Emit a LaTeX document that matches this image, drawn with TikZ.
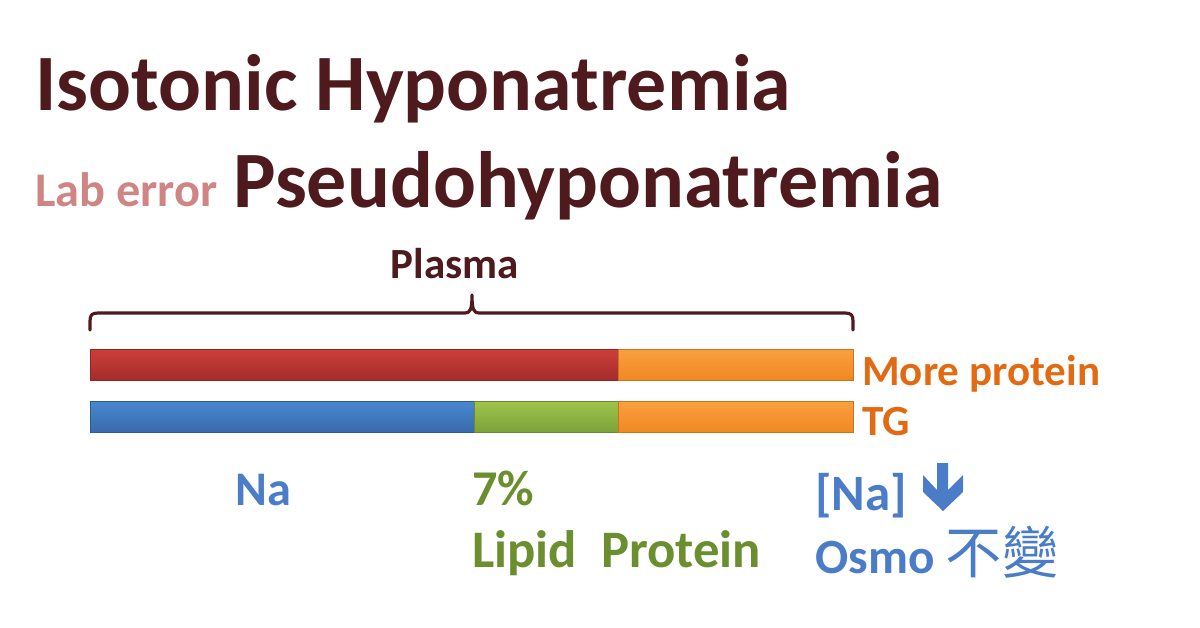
\documentclass[tikz,border=0pt]{standalone}
\usepackage{fontspec}
\setmainfont{Carlito}
\newfontfamily\cjkfont{Noto Sans CJK TC}
\usetikzlibrary{positioning}
\definecolor{Maroon}{RGB}{78,26,29}
\definecolor{LabPink}{RGB}{208,133,133}
\definecolor{OrangeTxt}{RGB}{226,106,18}
\definecolor{BlueTxt}{RGB}{74,124,200}
\definecolor{GreenTxt}{RGB}{107,142,46}
\definecolor{RedTop}{RGB}{204,62,58}
\definecolor{RedBot}{RGB}{165,44,42}
\definecolor{OrgTop}{RGB}{250,160,64}
\definecolor{OrgBot}{RGB}{240,136,34}
\definecolor{BluTop}{RGB}{72,136,208}
\definecolor{BluBot}{RGB}{56,106,172}
\definecolor{GrnTop}{RGB}{158,196,76}
\definecolor{GrnBot}{RGB}{124,162,58}

\begin{document}
\begin{tikzpicture}[
    x=0.02cm, y=-0.02cm,
    txt/.style={anchor=base west, inner sep=0pt, font=\bfseries\fontsize{#1}{#1}\selectfont},
    bar/.style 2 args={top color=#1, bottom color=#2, draw=#2!85!black, line width=0.4pt},
    brace/.style={draw=Maroon, line width=1.8pt, line cap=round, line join=round}
  ]
    \useasboundingbox (0,0) rectangle (1200,628);
    % titles
    \node[txt=45.5, text=Maroon](title) at (35,111){Isotonic Hyponatremia};
    \node[txt=27.5, text=LabPink](lab) at (35,207){Lab error};
    \node[txt=45.5, text=Maroon](pseudo) at (233,208){Pseudohyponatremia};
    % plasma brace
    \node[txt=24.5, text=Maroon, anchor=base](plasma) at (455,278){Plasma};
    \draw[brace] (90,330) -- (90,321) .. controls (90,315) and (92,313) .. (98,313)
      -- (465,313) .. controls (470,313) and (472,310) .. (472,295)
      .. controls (472,310) and (474,313) .. (479,313)
      -- (845,313) .. controls (851,313) and (853,315) .. (853,321) -- (853,330);
    % bars
    \path[bar={RedTop}{RedBot}] (90,349) rectangle (618,380);
    \path[bar={OrgTop}{OrgBot}] (618,349) rectangle (853,380);
    \path[bar={BluTop}{BluBot}] (90,401) rectangle (474,432);
    \path[bar={GrnTop}{GrnBot}] (474,401) rectangle (618,432);
    \path[bar={OrgTop}{OrgBot}] (618,401) rectangle (853,432);
    \node[txt=24.5, text=OrangeTxt](more) at (862,385){More protein};
    \node[txt=24.5, text=OrangeTxt](tg) at (862,435){TG};
    % labels below
    \node[txt=27.5, text=BlueTxt](na) at (235,505){Na};
    \node[txt=28.5, text=GreenTxt](pct) at (472,505){7\%};
    \node[txt=30, text=GreenTxt](lipid) at (472,567){Lipid\ \ Protein};
    \node[txt=29, text=BlueTxt](conc) at (815,510){[Na]};
    \fill[BlueTxt] (937,463) -- (948,463) -- (948,490) -- (963,475) -- (963,492)
      -- (943,511) -- (923,492) -- (923,475) -- (937,490) -- cycle;
    \node[txt=28, text=BlueTxt](osmo) at (815,573){Osmo {\mdseries\cjkfont\fontsize{32}{32}\selectfont 不變}};
  \end{tikzpicture}
\end{document}
